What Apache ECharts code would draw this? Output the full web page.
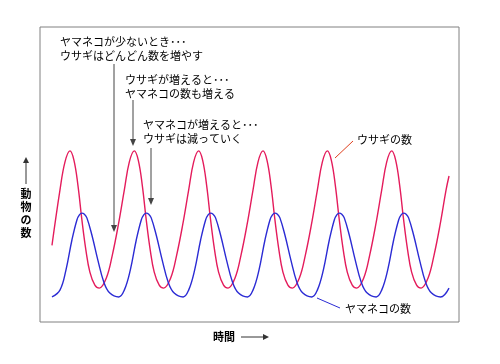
<!DOCTYPE html>
<html><head><meta charset="utf-8">
<script src="https://cdn.jsdelivr.net/npm/echarts@6/dist/echarts.min.js"></script>
<style>html,body{margin:0;padding:0;background:#fff}#c{width:500px;height:364px}</style>
</head><body><div id="c"></div>
<script>
// Rabbit (ウサギ) population over time (arbitrary units)
const rabbitTime = [1.2,2.0,2.5,3.0,3.4,3.8,4.2,4.6,5.0,5.5,5.95,6.65,7.25,7.85,8.45,8.95,
  9.45,9.85,10.25,10.65,11.05,11.45,11.95,12.4,13.1,13.7,14.3,14.9,15.4,
  15.9,16.3,16.7,17.1,17.5,17.9,18.4,18.85,19.55,20.15,20.75,21.35,21.85,
  22.35,22.75,23.15,23.55,23.95,24.35,24.85,25.3,26.0,26.6,27.2,27.8,28.3,
  28.8,29.2,29.6,30.0,30.4,30.8,31.3,31.75,32.45,33.05,33.65,34.25,34.75,
  35.25,35.65,36.05,36.45,36.85,37.25,37.75,38.2,38.9,39.5,40.1,40.7,41.0];
const rabbitCount = [26,44.7,54.2,58,54.9,46.4,34.6,24.4,16.9,12.5,11.5,14.9,22.7,32.9,44.7,54.2,
  58,54.9,46.4,34.6,24.4,16.9,12.5,11.5,14.9,22.7,32.9,44.7,54.2,
  58,54.9,46.4,34.6,24.4,16.9,12.5,11.5,14.9,22.7,32.9,44.7,54.2,
  58,54.9,46.4,34.6,24.4,16.9,12.5,11.5,14.9,22.7,32.9,44.7,54.2,
  58,54.9,46.4,34.6,24.4,16.9,12.5,11.5,14.9,22.7,32.9,44.7,54.2,
  58,54.9,46.4,34.6,24.4,16.9,12.5,11.5,14.9,22.7,32.9,44.7,49.5];
// Lynx (ヤマネコ) population over time
const lynxTime = [1.2,2.0,2.6,3.2,3.7,3.95,4.2,4.45,4.7,5.2,5.8,6.4,7.0,7.9,
  8.45,9.05,9.65,10.15,10.4,10.65,10.9,11.15,11.65,12.25,12.85,13.45,14.35,
  14.9,15.5,16.1,16.6,16.85,17.1,17.35,17.6,18.1,18.7,19.3,19.9,20.8,
  21.35,21.95,22.55,23.05,23.3,23.55,23.8,24.05,24.55,25.15,25.75,26.35,27.25,
  27.8,28.4,29.0,29.5,29.75,30.0,30.25,30.5,31.0,31.6,32.2,32.8,33.7,
  34.25,34.85,35.45,35.95,36.2,36.45,36.7,36.95,37.45,38.05,38.65,39.25,40.15,41.0];
const lynxCount = [8.5,10.8,17.6,27.8,34.6,36.3,36.9,36.5,35.3,29.5,21,13.5,9.8,8.5,
  10.8,17.6,27.8,34.6,36.3,36.9,36.5,35.3,29.5,21,13.5,9.8,8.5,
  10.8,17.6,27.8,34.6,36.3,36.9,36.5,35.3,29.5,21,13.5,9.8,8.5,
  10.8,17.6,27.8,34.6,36.3,36.9,36.5,35.3,29.5,21,13.5,9.8,8.5,
  10.8,17.6,27.8,34.6,36.3,36.9,36.5,35.3,29.5,21,13.5,9.8,8.5,
  10.8,17.6,27.8,34.6,36.3,36.9,36.5,35.3,29.5,21,13.5,9.8,8.5,11.5];

const FONT = '"Noto Sans CJK JP", sans-serif';
const RED = '#e41c5c', BLUE = '#2b2bd4', ARROW = '#444';

function txt(text, x, y, extra) {
  return {type:'text', x:x, y:y, style:Object.assign({text:text, font:'11px ' + FONT, fill:'#000', verticalAlign:'middle', align:'left'}, extra||{})};
}
function line(x1,y1,x2,y2,color,w){
  return {type:'line', shape:{x1:x1,y1:y1,x2:x2,y2:y2}, style:{stroke:color, lineWidth:w||1}};
}
function head(points,color){
  return {type:'polygon', shape:{points:points}, style:{fill:color}};
}

const chart = echarts.init(document.getElementById('c'), null, {renderer:'canvas'});
chart.setOption({
  animation:false,
  backgroundColor:'#fff',
  grid:{left:40, top:27, width:419, height:295, show:true, borderColor:'#808080', borderWidth:1, backgroundColor:'transparent'},
  xAxis:{type:'value', min:0, max:42, show:false},
  yAxis:{type:'value', min:0, max:100, show:false},
  series:[
    {type:'line', name:'ウサギの数', data:rabbitTime.map((t,i)=>[t,rabbitCount[i]]), smooth:0.4, showSymbol:false, lineStyle:{color:RED, width:1.4}},
    {type:'line', name:'ヤマネコの数', data:lynxTime.map((t,i)=>[t,lynxCount[i]]), smooth:0.4, showSymbol:false, lineStyle:{color:BLUE, width:1.4}}
  ],
  graphic:[
    txt('ヤマネコが少ないとき･･･', 60, 42),
    txt('ウサギはどんどん数を増やす', 60, 56),
    txt('ウサギが増えると･･･', 125, 80),
    txt('ヤマネコの数も増える', 125, 94),
    txt('ヤマネコが増えると･･･', 143, 125),
    txt('ウサギは減っていく', 143, 139),
    line(114,64,114,226,ARROW), head([[111,225],[117,225],[114,232]],ARROW),
    line(133,100,133,140,ARROW), head([[130,139],[136,139],[133,146]],ARROW),
    line(151,148,151,199,ARROW), head([[148,198],[154,198],[151,205]],ARROW),
    txt('ウサギの数', 357, 140),
    line(335,158,353,141,'#e0401e'),
    txt('ヤマネコの数', 345, 309),
    line(317,298,340,308,BLUE),
    txt('時間', 213, 337, {font:'bold 11px ' + FONT}),
    line(241,337,264,337,'#333'), head([[263,334],[263,340],[269,337]],'#333'),
    txt('動\n物\nの\n数', 26, 213, {font:'bold 11px ' + FONT, align:'center', lineHeight:13}),
    line(26,184,26,162,'#333'), head([[23,163],[29,163],[26,157]],'#333')
  ]
});
</script></body></html>
